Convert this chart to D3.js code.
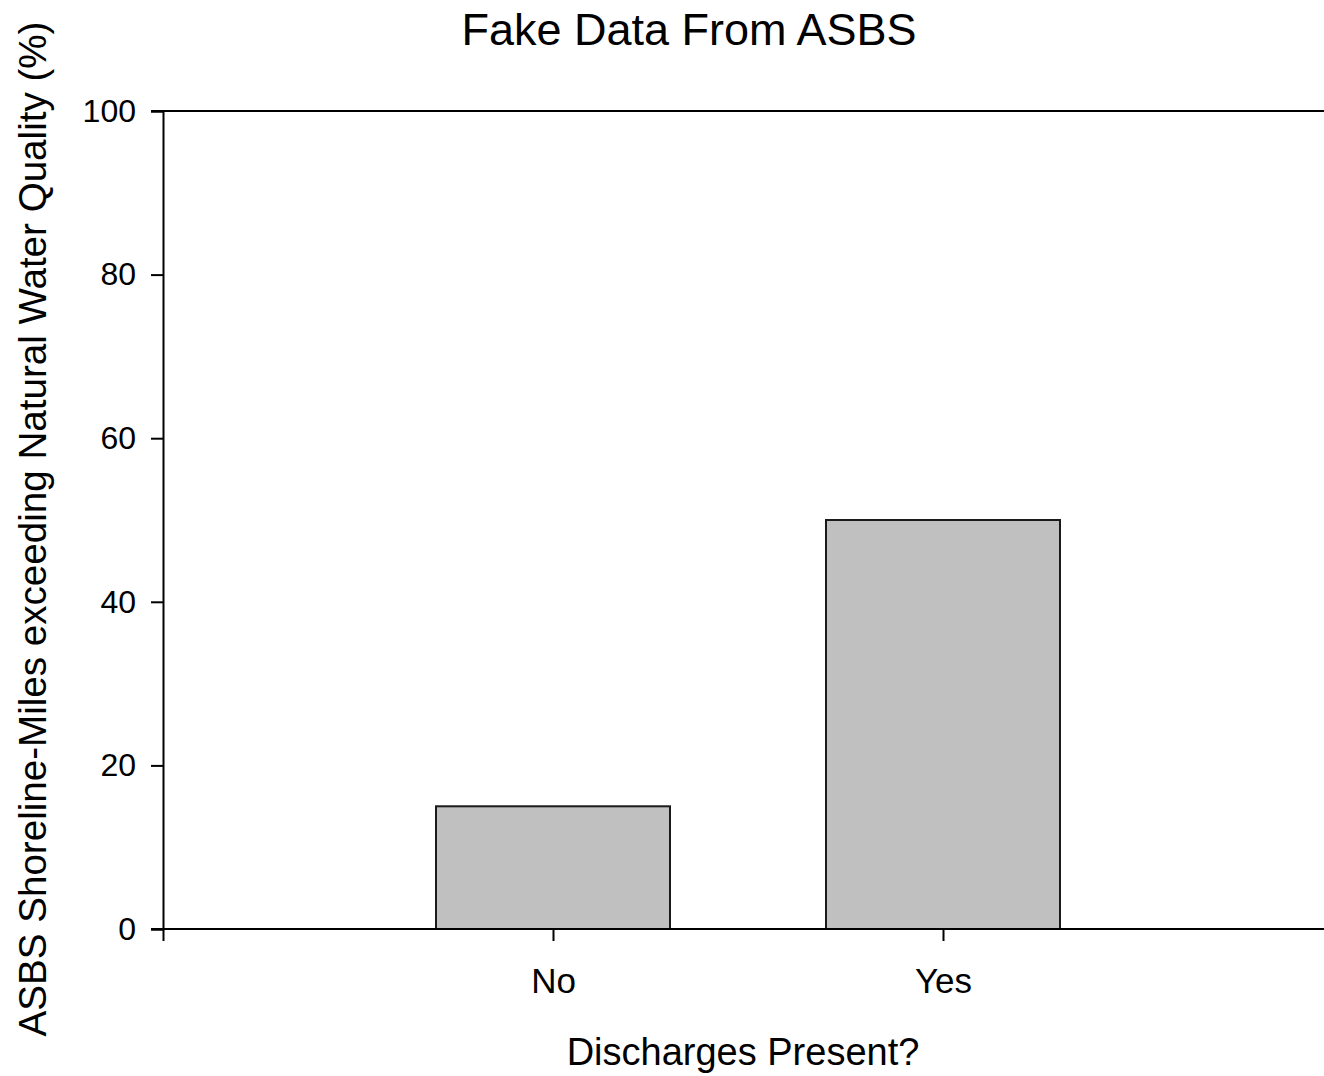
<!DOCTYPE html>
<html>
<head>
<meta charset="utf-8">
<script src="https://cdn.jsdelivr.net/npm/d3@7"></script>
<style>
  body { margin: 0; background: #fff; }
  text { font-family: "Liberation Sans", Arial, sans-serif; fill: #000; }
</style>
</head>
<body>
<div id="chart-area"></div>
<script>
var categories = ['No', 'Yes']
var values = [15, 50]
var yTicks = [0, 20, 40, 60, 80, 100]

var ab_width = 1324
var ab_height = 1076
var margin = { left: 163, top: 111, bottom: 147 }
var height = ab_height - margin.top - margin.bottom

var svg = d3.select('#chart-area')
    .append('svg')
    .attr('width', ab_width)
    .attr('height', ab_height)

var g = svg.append('g')
    .attr('transform', 'translate(' + margin.left + ', ' + margin.top + ')')

// category positions: 1 and 2 on a 0..3 axis
var x = d3.scaleLinear()
    .domain([0, categories.length + 1])
    .range([0, 1170])

var y = d3.scaleLinear()
    .domain([0, 100])
    .range([height, 0])

var barW = (x(1) - x(0)) * 0.6

g.selectAll('rect').data(values)
  .enter()
  .append('rect')
    .attr('x', function(d, i) { return x(i + 1) - barW / 2 })
    .attr('y', function(d) { return y(d) })
    .attr('width', barW)
    .attr('height', function(d) { return y(0) - y(d) })
    .attr('fill', '#c0c0c0')
    .attr('stroke', '#1a1a1a')
    .attr('stroke-width', 2)

// top frame line
g.append('line')
    .attr('x1', -12).attr('x2', ab_width)
    .attr('y1', y(100)).attr('y2', y(100))
    .attr('stroke', '#000').attr('stroke-width', 2)

// y axis
var yAxis = d3.axisLeft(y).tickValues(yTicks).tickSize(12).tickPadding(15)
var ya = g.append('g').call(yAxis)
ya.select('.domain').attr('stroke-width', 2)
ya.selectAll('.tick line').attr('stroke-width', 2)
ya.selectAll('text').attr('font-size', 32).attr('font-family', '"Liberation Sans", Arial, sans-serif')

// x axis
var xAxis = d3.axisBottom(x).tickValues([0, 1, 2]).tickSize(12).tickPadding(27)
  .tickFormat(function(d) { return categories[d - 1] || '' })
var xa = g.append('g')
    .attr('transform', 'translate(0,' + height + ')')
    .call(xAxis)
xa.select('.domain').remove()
xa.append('line')
    .attr('x1', -12).attr('x2', ab_width)
    .attr('stroke', '#000').attr('stroke-width', 2)
xa.selectAll('.tick line').attr('stroke-width', 2)
xa.selectAll('text').attr('font-size', 35).attr('font-family', '"Liberation Sans", Arial, sans-serif')

svg.append('text')
    .attr('x', 689).attr('y', 45)
    .attr('text-anchor', 'middle')
    .attr('font-size', 45)
    .text('Fake Data From ASBS')

svg.append('text')
    .attr('x', 743).attr('y', 1065)
    .attr('text-anchor', 'middle')
    .attr('font-size', 38)
    .text('Discharges Present?')

svg.append('text')
    .attr('transform', 'translate(46,529) rotate(-90)')
    .attr('text-anchor', 'middle')
    .attr('font-size', 38.6)
    .text('ASBS Shoreline-Miles exceeding Natural Water Quality (%)')
</script>
</body>
</html>
